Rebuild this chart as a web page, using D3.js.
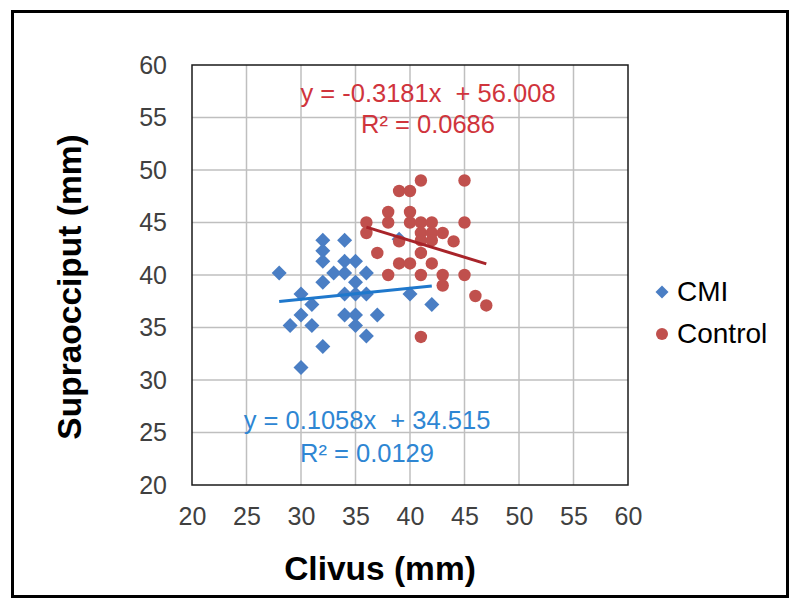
<!DOCTYPE html>
<html><head><meta charset="utf-8">
<script src="https://cdn.jsdelivr.net/npm/d3@7"></script>
<style>
body{margin:0;background:#fff}
svg{display:block}
text{font-family:"Liberation Sans",Arial,sans-serif}
</style>
</head><body>
<svg id="c" width="800" height="608"></svg>
<script>
// ---- data ----
const cmiX = [28,30,31,30,29,31,32,30,32,32,32,32,34,33,34,34,35,35,36,34,35,36,34,35,35,36,37,40,42,39];
const cmiY = [40.2,38.2,37.2,36.2,35.2,35.2,33.2,31.2,43.3,42.3,41.3,39.3,43.3,40.2,41.3,40.2,41.3,39.3,40.2,38.2,38.2,38.2,36.2,36.2,35.2,34.2,36.2,38.2,37.2,43.4];
const ctrlX = [41,45,39,40,38,40,36,38,40,41,42,45,36,41,42,43,41,42,39,44,37,41,39,40,42,38,41,43,45,43,46,47,41];
const ctrlY = [49,49,48,48,46,46,45,45,45,45,45,45,44,44,44,44,43.3,43.3,43.2,43.2,42.1,42.1,41.1,41.1,41.1,40,40,40,40,39,38,37.1,34.1];
const seriesNames = ["CMI","Control"];
const cmiTrend = [0.1058, 34.515];     // slope, intercept
const ctrlTrend = [-0.3181, 56.008];
const cmiLabels = ["y = 0.1058x  + 34.515","R² = 0.0129"];
const ctrlLabels = ["y = -0.3181x  + 56.008","R² = 0.0686"];
const xTicks = [20,25,30,35,40,45,50,55,60];
const yTicks = [20,25,30,35,40,45,50,55,60];
const xTitle = "Clivus (mm)";
const yTitle = "Supraocciput (mm)";

// ---- chart ----
const svg = d3.select("#c");
const L = 192, R = 628, T = 65, B = 485;
const x = d3.scaleLinear().domain([20,60]).range([L,R]);
const y = d3.scaleLinear().domain([20,60]).range([B,T]);

const blue = "#4A7EC4", red = "#C0504D";
const blueLine = "#1F78CC", redLine = "#A8242A";
const blueText = "#2E86D3", redText = "#D0343C";

// outer frame
svg.append("rect").attr("x",12.5).attr("y",11.5).attr("width",775).attr("height",585)
  .attr("fill","#fff").attr("stroke","#000").attr("stroke-width",3);

// gridlines
const g = svg.append("g");
g.selectAll(".vg").data(xTicks.slice(1,-1)).enter().append("line")
  .attr("x1",d=>x(d)).attr("x2",d=>x(d)).attr("y1",T).attr("y2",B)
  .attr("stroke","#BFBFBF").attr("stroke-width",1.5);
g.selectAll(".hg").data(yTicks.slice(1,-1)).enter().append("line")
  .attr("y1",d=>y(d)).attr("y2",d=>y(d)).attr("x1",L).attr("x2",R)
  .attr("stroke","#BFBFBF").attr("stroke-width",1.5);

// axes (labels only)
const xAxis = d3.axisBottom(x).tickValues(xTicks).tickSize(0).tickPadding(0);
const ax = svg.append("g").attr("transform",`translate(0,${B})`).call(xAxis);
ax.select(".domain").remove();
ax.selectAll("text").attr("y",40).attr("dy",0).attr("font-size",25)
  .attr("fill","#404040").attr("font-family","Liberation Sans, Arial, sans-serif");

const yAxis = d3.axisLeft(y).tickValues(yTicks).tickSize(0).tickPadding(0);
const ay = svg.append("g").attr("transform",`translate(${L},0)`).call(yAxis);
ay.select(".domain").remove();
ay.selectAll("text").attr("x",-25).attr("dy","0.33em").attr("font-size",25)
  .attr("fill","#404040").attr("font-family","Liberation Sans, Arial, sans-serif");

// plot border
svg.append("rect").attr("x",L).attr("y",T).attr("width",R-L).attr("height",B-T)
  .attr("fill","none").attr("stroke","#1a1a1a").attr("stroke-width",1.5);

// markers
const cmi = cmiX.map((v,i)=>({x:v,y:cmiY[i]}));
const ctrl = ctrlX.map((v,i)=>({x:v,y:ctrlY[i]}));
const dia = (s)=>`M0,${-s}L${s},0L0,${s}L${-s},0Z`;
svg.append("g").selectAll("path").data(cmi).enter().append("path")
  .attr("d",dia(7.5)).attr("transform",d=>`translate(${x(d.x)},${y(d.y)})`)
  .attr("fill",blue);
svg.append("g").selectAll("circle").data(ctrl).enter().append("circle")
  .attr("cx",d=>x(d.x)).attr("cy",d=>y(d.y)).attr("r",6.2).attr("fill",red);

// trend lines
function trend(data, coef, color){
  const ex = d3.extent(data,d=>d.x);
  svg.append("line")
    .attr("x1",x(ex[0])).attr("y1",y(coef[0]*ex[0]+coef[1]))
    .attr("x2",x(ex[1])).attr("y2",y(coef[0]*ex[1]+coef[1]))
    .attr("stroke",color).attr("stroke-width",3);
}
trend(cmi, cmiTrend, blueLine);
trend(ctrl, ctrlTrend, redLine);

// equation labels
function eq(lines, cx, y0, dy, color){
  lines.forEach((t,i)=>{
    svg.append("text").attr("x",cx).attr("y",y0+i*dy).attr("text-anchor","middle")
      .attr("font-size",25.5).attr("fill",color).style("white-space","pre").text(t);
  });
}
eq(ctrlLabels, 428, 102, 31, redText);
eq(cmiLabels, 367, 429, 33, blueText);

// axis titles
svg.append("text").attr("x",380).attr("y",580).attr("text-anchor","middle")
  .attr("font-size",33.5).attr("font-weight","bold").attr("fill","#000").text(xTitle);
svg.append("text").attr("transform","translate(81,287) rotate(-90)").attr("text-anchor","middle")
  .attr("font-size",33.5).attr("font-weight","bold").attr("fill","#000").text(yTitle);

// legend
const lg = svg.append("g");
lg.append("path").attr("d",dia(6.5)).attr("transform","translate(662,292)").attr("fill",blue);
lg.append("circle").attr("cx",662).attr("cy",334).attr("r",6).attr("fill",red);
lg.append("text").attr("x",677).attr("y",301).attr("font-size",28).attr("fill","#000").text(seriesNames[0]);
lg.append("text").attr("x",677).attr("y",343).attr("font-size",28).attr("fill","#000").text(seriesNames[1]);
</script>
</body></html>
